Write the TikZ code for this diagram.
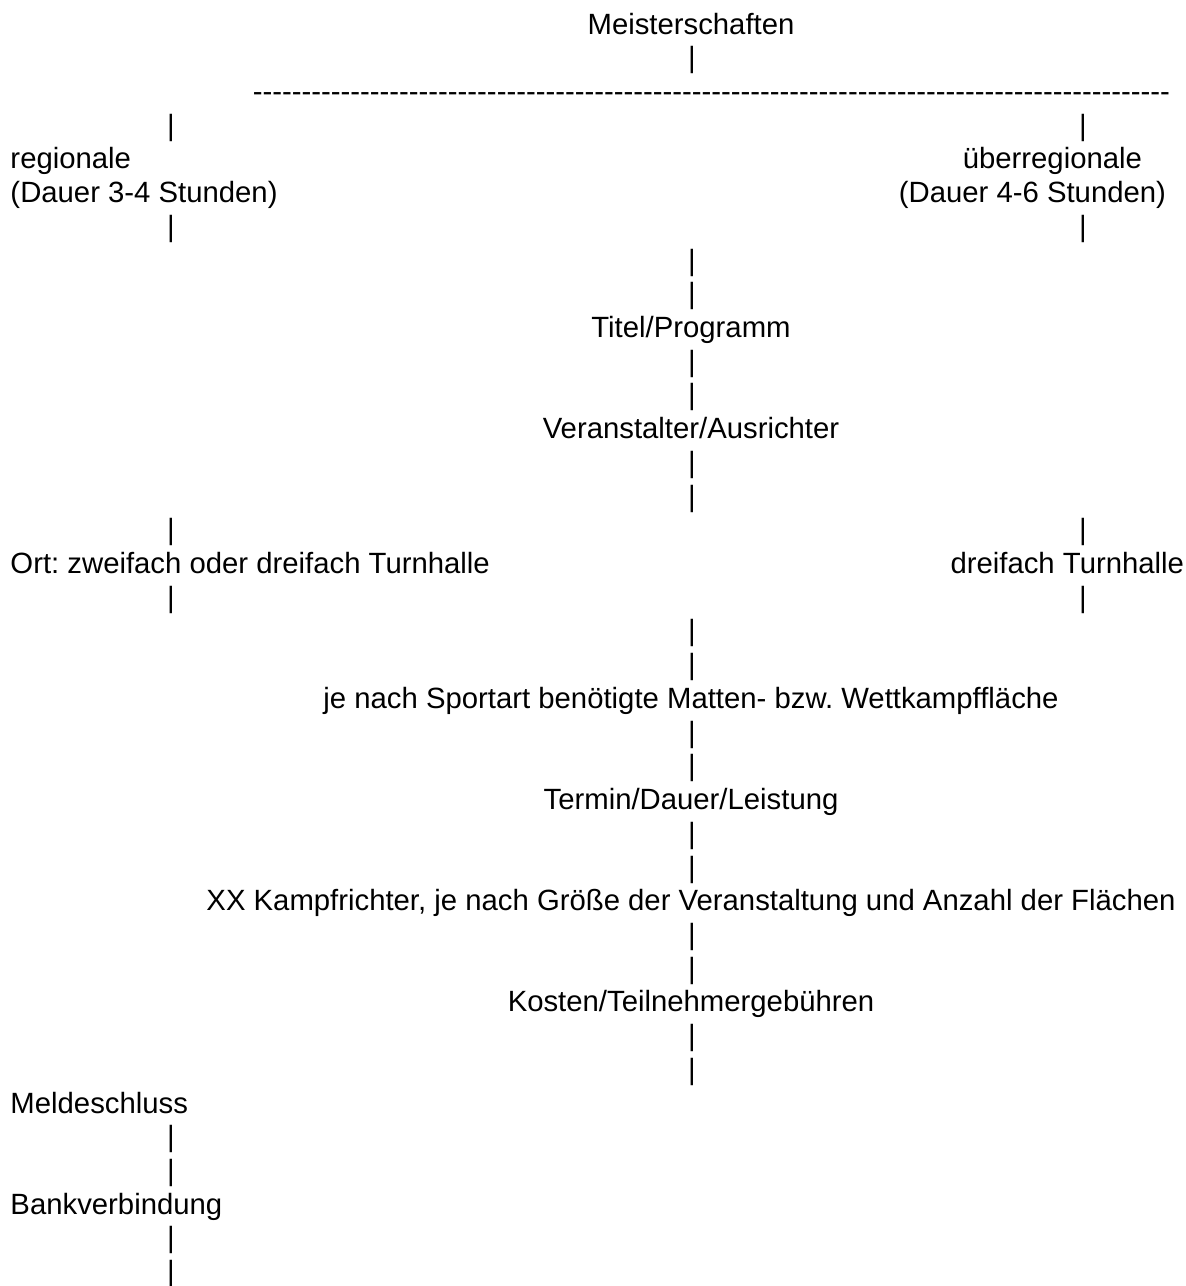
\documentclass[tikz,border=0pt]{standalone}
\usepackage{fontspec}
\setmainfont{Liberation Sans}[Ligatures=TeXOff]
\frenchspacing

\begin{document}
\begin{tikzpicture}[x=0.5pt, y=-0.5pt,
    every node/.style={inner sep=0pt, outer sep=0pt, font=\fontsize{14.65pt}{17pt}\selectfont},
    lefttext/.style={anchor=base west},
    midtext/.style={anchor=base},
    righttext/.style={anchor=base east},
    bar/.style={anchor=base}]
  \useasboundingbox (0,0) rectangle (1186,1286);

  % top
  \node[midtext] (meister) at (691,34) {Meisterschaften};
  \node[bar] (b2) at (692,67.72) {|};
  \node[righttext] (split) at (1170,101.44) {----------------------------------------------------------------------------------------------};
  \node[bar] (b4l) at (171,135.16) {|};
  \node[bar] (b4r) at (1083,135.16) {|};

  % two branches
  \node[lefttext] (regio) at (10.5,168.88) {regionale};
  \node[lefttext] (regiodauer) at (10.5,202.6) {(Dauer 3-4 Stunden)};
  \node[righttext] (ueber) at (1142,168.88) {überregionale};
  \node[righttext] (ueberdauer) at (1166,202.6) {(Dauer 4-6 Stunden)};
  \node[bar] (b7l) at (171,236.32) {|};
  \node[bar] (b7r) at (1083,236.32) {|};

  % middle column
  \node[bar] (b8) at (692,270.04) {|};
  \node[bar] (b9) at (692,303.76) {|};
  \node[midtext] (titel) at (691,337.48) {Titel/Programm};
  \node[bar] (b11) at (692,371.2) {|};
  \node[bar] (b12) at (692,404.92) {|};
  \node[midtext] (veranst) at (691,438.64) {Veranstalter/Ausrichter};
  \node[bar] (b14) at (692,472.36) {|};
  \node[bar] (b15) at (692,506.08) {|};

  % place
  \node[bar] (b16l) at (171,539.8) {|};
  \node[bar] (b16r) at (1083,539.8) {|};
  \node[lefttext] (ortregio) at (10.5,573.52) {Ort: zweifach oder dreifach Turnhalle};
  \node[righttext] (ortueber) at (1184,573.52) {dreifach Turnhalle};
  \node[bar] (b18l) at (171,607.24) {|};
  \node[bar] (b18r) at (1083,607.24) {|};

  \node[bar] (b19) at (692,640.96) {|};
  \node[bar] (b20) at (692,674.68) {|};
  \node[midtext] (flaeche) at (691,708.4) {je nach Sportart benötigte Matten- bzw. Wettkampffläche};
  \node[bar] (b22) at (692,742.12) {|};
  \node[bar] (b23) at (692,775.84) {|};
  \node[midtext] (termin) at (691,809.56) {Termin/Dauer/Leistung};
  \node[bar] (b25) at (692,843.28) {|};
  \node[bar] (b26) at (692,877) {|};
  \node[midtext] (kampf) at (691,910.72) {XX Kampfrichter, je nach Größe der Veranstaltung und Anzahl der Flächen};
  \node[bar] (b28) at (692,944.44) {|};
  \node[bar] (b29) at (692,978.16) {|};
  \node[midtext] (kosten) at (691,1011.88) {Kosten/Teilnehmergebühren};
  \node[bar] (b31) at (692,1045.6) {|};
  \node[bar] (b32) at (692,1079.32) {|};

  % bottom left
  \node[lefttext] (melde) at (10.5,1113.04) {Meldeschluss};
  \node[bar] (b34) at (171,1146.76) {|};
  \node[bar] (b35) at (171,1180.48) {|};
  \node[lefttext] (bank) at (10.5,1214.2) {Bankverbindung};
  \node[bar] (b37) at (171,1247.92) {|};
  \node[bar] (b38) at (171,1281.64) {|};
\end{tikzpicture}
\end{document}
